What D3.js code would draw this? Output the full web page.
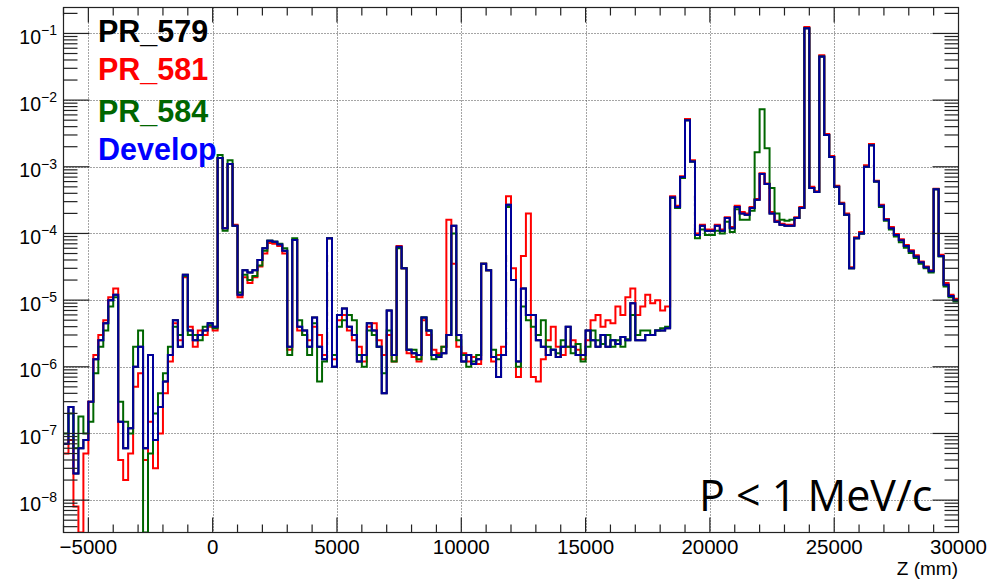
<!DOCTYPE html>
<html>
<head>
<meta charset="utf-8">
<script src="https://cdn.jsdelivr.net/npm/d3@7"></script>
<style>
  body { margin: 0; background: #fff; }
  text { font-family: "Liberation Sans", Arial, Helvetica, sans-serif; }
</style>
</head>
<body>
<div id="chart"></div>
<script>
const width = 992,
  height = 584;

// histogram binning, Z in mm (200 mm bins from -6000 to 30000)
const binEdges = d3.range(-6000, 30000 + 1, 200);

// Develop (blue), one value per bin
const develop = [
  7e-8, 2.5e-7, 2.5e-8, 6e-8, 8e-8, 3e-7, 1.3e-6, 2.5e-6, 4.5e-6, 1e-5,
  1.2e-5, 1.5e-7, 6e-8, 1.2e-7, 1e-6, 2e-6, 6e-8, 1.5e-6, 8e-8, 2.5e-7,
  6e-7, 1.5e-6, 5e-6, 2e-6, 2.4e-5, 3.5e-6, 2.5e-6, 3e-6, 3.5e-6, 4.5e-6,
  4e-6, 1.35e-3, 1.2e-4, 1.1e-3, 1.3e-4, 1.2e-5, 2.8e-5, 2.6e-5, 2.8e-5, 4e-5,
  6e-5, 7.8e-5, 7.5e-5, 6.8e-5, 5.5e-5, 2e-6, 8e-5, 4e-6, 3.5e-6, 2e-6,
  5.5e-6, 2e-6, 1.3e-6, 8.5e-5, 1e-6, 6e-6, 7.5e-6, 4e-6, 3e-6, 1.2e-6,
  1.5e-6, 4.5e-6, 3.5e-6, 2e-6, 4e-7, 7e-6, 1.5e-6, 6.3e-5, 3e-5, 1.8e-6,
  1.6e-6, 1.5e-6, 5.5e-6, 3.5e-6, 1.5e-6, 1.4e-6, 1.6e-6, 3e-6, 1.3e-4, 3e-6,
  1.2e-6, 1.5e-6, 1.1e-6, 1.3e-6, 3.5e-5, 2.8e-5, 1.4e-6, 7e-7, 1.5e-6, 2.7e-4,
  2e-5, 1.2e-6, 1.5e-5, 6e-6, 6e-6, 2.5e-6, 2e-6, 1.5e-6, 1.8e-6, 1.4e-6,
  2e-6, 4e-6, 2e-6, 1.5e-6, 1.5e-6, 3.5e-6, 2.5e-6, 2e-6, 3e-6, 2e-6,
  2.5e-6, 2.2e-6, 2.8e-6, 2.5e-6, 9e-6, 2.5e-6, 2.5e-6, 3e-6, 3e-6, 3.5e-6,
  3.5e-6, 3.8e-6, 3.5e-4, 2.5e-4, 7e-4, 5e-3, 1.2e-3, 9.5e-5, 1.3e-4, 1.1e-4,
  1.1e-4, 1.3e-4, 1.1e-4, 1.7e-4, 1.2e-4, 2.5e-4, 2e-4, 1.9e-4, 2.4e-4, 3.2e-4,
  7.8e-4, 5.5e-4, 2e-4, 1.5e-4, 1.35e-4, 1.3e-4, 1.3e-4, 1.7e-4, 2.4e-4, 0.12,
  4.8e-4, 4.2e-4, 4.5e-2, 3e-3, 1.4e-3, 5e-4, 2.8e-4, 1.9e-4, 3e-5, 8.5e-5,
  1e-4, 1e-3, 2.1e-3, 6e-4, 2.6e-4, 1.6e-4, 1.2e-4, 9.5e-5, 7.9e-5, 6.5e-5,
  5.4e-5, 4.5e-5, 3.7e-5, 3.1e-5, 2.7e-5, 4.6e-4, 4.6e-5, 1.7e-5, 1.15e-5, 1e-5
];

// PR_581 (red)
const pr581 = [
  5e-8, 8e-8, 8e-9, 0, 5e-8, 3e-7, 1.5e-6, 3e-6, 5e-6, 1.1e-5,
  1.5e-5, 4e-8, 2e-8, 5e-8, 5e-7, 8e-7, 4e-8, 1.5e-7, 3e-8, 1e-7,
  4e-7, 1.2e-6, 4.5e-6, 2.5e-6, 2.2e-5, 4e-6, 2e-6, 3.5e-6, 3e-6, 4e-6,
  3.5e-6, 1.35e-3, 1.2e-4, 1.1e-3, 1.35e-4, 1.1e-5, 2.2e-5, 1.8e-5, 2.2e-5, 3.2e-5,
  5e-5, 7.2e-5, 7e-5, 6.5e-5, 5e-5, 1.8e-6, 8e-5, 3.5e-6, 3e-6, 2.5e-6,
  4e-6, 3e-6, 1.5e-6, 8.5e-5, 1.3e-6, 5e-6, 6e-6, 3.5e-6, 2.5e-6, 2e-6,
  1.2e-6, 4e-6, 4.5e-6, 2.5e-6, 1.5e-6, 3e-6, 1.2e-6, 6.5e-5, 3e-5, 1.6e-6,
  1.4e-6, 1.2e-6, 5e-6, 3e-6, 1.8e-6, 1.6e-6, 2e-6, 1.6e-4, 3.5e-5, 2e-6,
  1.6e-6, 1.2e-6, 1.4e-6, 1.1e-6, 3.5e-5, 2.8e-5, 1.2e-6, 1.5e-6, 2e-6, 3.6e-4,
  3e-5, 7e-7, 4.6e-5, 2e-4, 7e-7, 6e-7, 1.3e-6, 2.5e-6, 4e-6, 2e-6,
  1.5e-6, 2e-6, 2.5e-6, 1.8e-6, 1.3e-6, 2.5e-6, 5e-6, 6e-6, 4e-6, 5e-6,
  4.5e-6, 8e-6, 6e-6, 1.1e-5, 1.5e-5, 6e-6, 8e-6, 1.2e-5, 9e-6, 1e-5,
  7e-6, 8e-6, 3.6e-4, 2.6e-4, 7.2e-4, 5.2e-3, 1.25e-3, 1e-4, 1.35e-4, 1.15e-4,
  1.15e-4, 1.35e-4, 1.15e-4, 1.75e-4, 1.25e-4, 2.6e-4, 2.1e-4, 2e-4, 2.5e-4, 3.3e-4,
  8e-4, 5.6e-4, 2.1e-4, 1.55e-4, 1.4e-4, 1.35e-4, 1.35e-4, 1.75e-4, 2.5e-4, 0.125,
  5e-4, 4.3e-4, 4.7e-2, 3.1e-3, 1.45e-3, 5.2e-4, 2.9e-4, 2e-4, 3.1e-5, 8.8e-5,
  1.05e-4, 1.05e-3, 2.2e-3, 6.2e-4, 2.7e-4, 1.65e-4, 1.25e-4, 9.8e-5, 8.2e-5, 6.7e-5,
  5.6e-5, 4.7e-5, 3.8e-5, 3.2e-5, 2.8e-5, 4.7e-4, 4.8e-5, 1.8e-5, 1.2e-5, 1.05e-5
];

// PR_584 (green)
const pr584 = [
  1e-7, 2e-7, 6e-8, 1.8e-7, 1e-7, 1.5e-7, 8e-7, 2e-6, 3.5e-6, 8e-6,
  1.1e-5, 3e-7, 1.5e-7, 1e-7, 2e-6, 3.5e-6, 0, 5e-8, 2e-7, 4e-7,
  8e-7, 2e-6, 4e-6, 3e-6, 2.3e-5, 3e-6, 3e-6, 2.5e-6, 4e-6, 4.2e-6,
  3.8e-6, 1.5e-3, 1.1e-4, 1.25e-3, 1.3e-4, 1.3e-5, 2.4e-5, 2e-5, 2.3e-5, 3.3e-5,
  5.5e-5, 7.8e-5, 7.5e-5, 7e-5, 6e-5, 1.5e-6, 8.5e-5, 5e-6, 3e-6, 1.5e-6,
  4.5e-6, 6e-7, 1.2e-6, 8.5e-5, 1.5e-6, 4e-6, 5e-6, 6e-6, 5e-6, 1.5e-6,
  1e-6, 3.5e-6, 3e-6, 2e-6, 8e-7, 3.5e-6, 1.2e-6, 6e-5, 3e-5, 1.8e-6,
  1.8e-6, 1.3e-6, 5.5e-6, 3.5e-6, 1.3e-6, 1.5e-6, 2e-6, 3e-6, 1e-4, 2.5e-6,
  1.5e-6, 1e-6, 1.2e-6, 1.5e-6, 3.5e-5, 2.8e-5, 1.8e-6, 1.3e-6, 1.5e-6, 2.5e-4,
  2e-5, 1e-6, 8e-6, 5e-6, 4e-6, 3e-6, 5e-6, 2e-6, 1.8e-6, 1.6e-6,
  2.5e-6, 2e-6, 1.6e-6, 2.2e-6, 1.2e-6, 2e-6, 3.5e-6, 2.5e-6, 2.2e-6, 3e-6,
  2e-6, 2.5e-6, 2e-6, 2.6e-6, 6e-6, 3e-6, 3.5e-6, 3.5e-6, 3e-6, 3.5e-6,
  3.8e-6, 4e-6, 3.4e-4, 2.4e-4, 6.8e-4, 5e-3, 1.2e-3, 8.5e-5, 1.15e-4, 9.5e-5,
  9.5e-5, 1.1e-4, 1e-4, 1.5e-4, 1.05e-4, 2.3e-4, 1.6e-4, 1.6e-4, 2.2e-4, 1.65e-3,
  7.3e-3, 1.9e-3, 4.8e-4, 2e-4, 1.6e-4, 1.55e-4, 1.6e-4, 1.7e-4, 2.4e-4, 0.12,
  4.8e-4, 4.2e-4, 4.5e-2, 3e-3, 1.4e-3, 5e-4, 2.8e-4, 1.9e-4, 3e-5, 8.5e-5,
  1e-4, 1e-3, 2.1e-3, 6e-4, 2.5e-4, 1.55e-4, 1.15e-4, 9e-5, 7.4e-5, 6.1e-5,
  5.1e-5, 4.3e-5, 3.5e-5, 3e-5, 2.6e-5, 4.6e-4, 4.5e-5, 1.6e-5, 1.1e-5, 9.5e-6
];

// PR_579 (black) is identical to Develop and hidden under it in the picture
const pr579 = develop;

const seriesNames = ["PR_579", "PR_581", "PR_584", "Develop"];
const xMajorTicks = [-5000, 0, 5000, 10000, 15000, 20000, 25000, 30000];
const yMajorTicks = [-8, -7, -6, -5, -4, -3, -2, -1];

const lineColors = ["#000000", "#ff0000", "#006600", "#000099"];
const textColors = ["#000000", "#ff0000", "#006600", "#0000ff"];

const margin = { left: 63.5, right: 958.5, top: 7.5, bottom: 532.5 };

const x = d3.scaleLinear().domain([-6000, 30000]).range([margin.left, margin.right]);
const y = d3.scaleLog().domain([3.27e-9, 0.245]).range([margin.bottom, margin.top]).clamp(true);
const yv = v => v > 0 ? y(v) : margin.bottom;

const svg = d3.select("#chart").append("svg")
  .attr("width", width)
  .attr("height", height);

svg.append("defs").append("clipPath").attr("id", "plot")
  .append("rect")
  .attr("x", margin.left).attr("y", margin.top)
  .attr("width", margin.right - margin.left)
  .attr("height", margin.bottom - margin.top);

// grid
const grid = svg.append("g")
  .attr("stroke", "#4a4a4a")
  .attr("stroke-width", 1)
  .attr("stroke-dasharray", "1,2");

grid.selectAll(".gx")
  .data(xMajorTicks.filter(d => d > -6000 && d < 30000))
  .join("line")
  .attr("x1", d => Math.round(x(d)) + 0.5).attr("x2", d => Math.round(x(d)) + 0.5)
  .attr("y1", margin.top).attr("y2", margin.bottom);

grid.selectAll(".gy")
  .data(yMajorTicks)
  .join("line")
  .attr("x1", margin.left).attr("x2", margin.right)
  .attr("y1", d => Math.round(y(Math.pow(10, d))) + 0.5)
  .attr("y2", d => Math.round(y(Math.pow(10, d))) + 0.5);

// histograms
const allSeries = [pr579, pr581, pr584, develop];
const line = d3.line()
  .x(d => x(d[0]))
  .y(d => yv(d[1]))
  .curve(d3.curveStepAfter);

const hist = svg.append("g").attr("clip-path", "url(#plot)");
hist.selectAll("path")
  .data(allSeries)
  .join("path")
  .attr("fill", "none")
  .attr("stroke", (d, i) => lineColors[i])
  .attr("stroke-width", 2)
  .attr("stroke-linejoin", "miter")
  .attr("d", d => {
    const pts = d.map((v, i) => [binEdges[i], v]);
    pts.push([binEdges[d.length], d[d.length - 1]]);
    return line(pts);
  });

// frame
svg.append("rect")
  .attr("x", margin.left).attr("y", margin.top)
  .attr("width", margin.right - margin.left)
  .attr("height", margin.bottom - margin.top)
  .attr("fill", "none")
  .attr("stroke", "#222")
  .attr("stroke-width", 1.2);

// x ticks (bottom and top, pointing inward)
const xMinor = d3.range(-6000, 30001, 1000).filter(d => d % 5000 !== 0);
const ticks = svg.append("g").attr("stroke", "#222").attr("stroke-width", 1.2);
const xTick = (vals, len) => {
  ticks.append("g").selectAll("line").data(vals).join("line")
    .attr("x1", d => x(d)).attr("x2", d => x(d))
    .attr("y1", margin.bottom).attr("y2", margin.bottom - len);
  ticks.append("g").selectAll("line").data(vals).join("line")
    .attr("x1", d => x(d)).attr("x2", d => x(d))
    .attr("y1", margin.top).attr("y2", margin.top + len);
};
xTick(xMajorTicks.filter(d => d < 30000), 15);
xTick(xMinor, 8);

// y ticks (left and right)
const yMinor = [];
for (let e = -9; e <= -1; e++) {
  for (let k = 2; k <= 9; k++) {
    const v = k * Math.pow(10, e);
    if (v > 3.27e-9 && v < 0.245) yMinor.push(v);
  }
}
const yTick = (vals, len) => {
  ticks.append("g").selectAll("line").data(vals).join("line")
    .attr("x1", margin.left).attr("x2", margin.left + len)
    .attr("y1", d => y(d)).attr("y2", d => y(d));
  ticks.append("g").selectAll("line").data(vals).join("line")
    .attr("x1", margin.right).attr("x2", margin.right - len)
    .attr("y1", d => y(d)).attr("y2", d => y(d));
};
yTick(yMajorTicks.map(e => Math.pow(10, e)), 26);
yTick(yMinor, 14);

// x labels
svg.append("g").selectAll("text")
  .data(xMajorTicks)
  .join("text")
  .attr("x", d => x(d))
  .attr("y", 554)
  .attr("text-anchor", "middle")
  .attr("font-size", 20.5)
  .attr("fill", "#000")
  .text(d => d < 0 ? "\u2212" + Math.abs(d) : d);

svg.append("text")
  .attr("x", 958)
  .attr("y", 575)
  .attr("text-anchor", "end")
  .attr("font-size", 19)
  .text("Z (mm)");

// y labels
const yl = svg.append("g").selectAll("text")
  .data(yMajorTicks)
  .join("text")
  .attr("x", 57)
  .attr("y", d => y(Math.pow(10, d)) + 10.5)
  .attr("text-anchor", "end")
  .attr("font-size", 19.5);
yl.append("tspan").text("10");
yl.append("tspan")
  .attr("font-size", 14)
  .attr("dy", -8.5)
  .text(d => "\u2212" + Math.abs(d));

// legend
svg.append("g").selectAll("text")
  .data(seriesNames)
  .join("text")
  .attr("x", 98)
  .attr("y", (d, i) => [41.7, 80, 121.7, 160][i])
  .attr("font-size", 30.5)
  .attr("font-weight", "bold")
  .attr("fill", (d, i) => textColors[i])
  .text(d => d);

svg.append("text")
  .attr("x", 699)
  .attr("y", 511)
  .attr("font-size", 43)
  .attr("fill", "#000")
  .style("font-family", "'Open Sans', 'Noto Sans', sans-serif")
  .text("P < 1 MeV/c");
</script>
</body>
</html>
